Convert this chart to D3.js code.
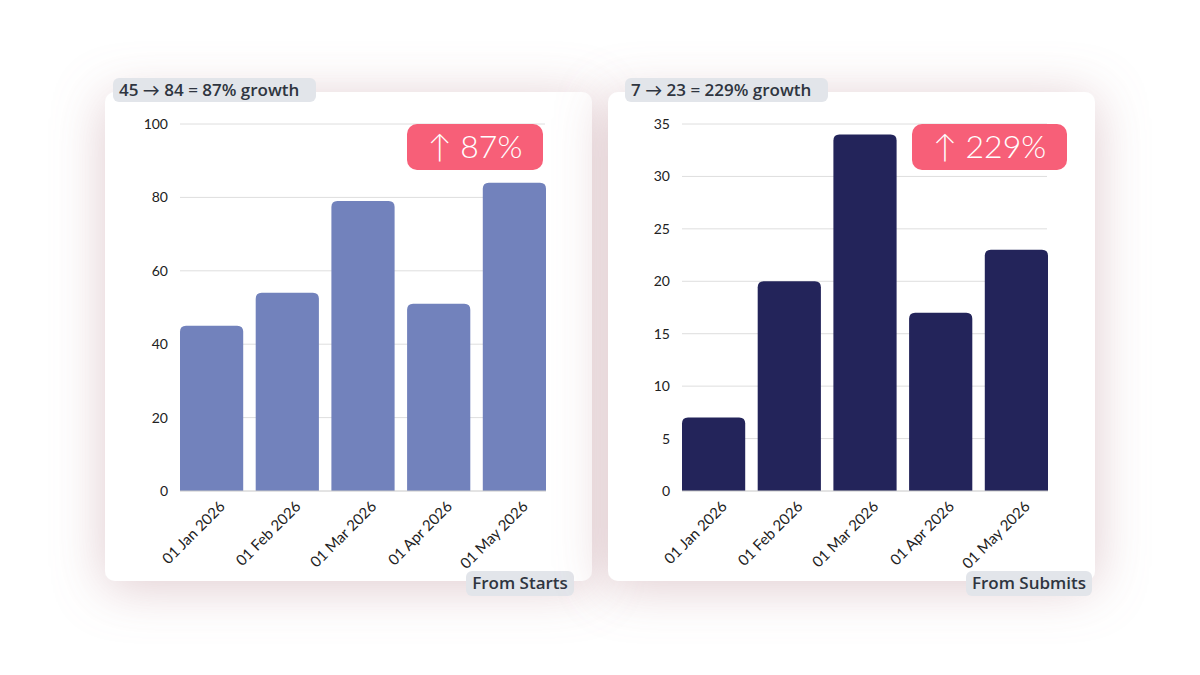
<!DOCTYPE html>
<html>
<head>
<meta charset="utf-8">
<script src="https://d3js.org/d3.v7.min.js"></script>
<style>
  body { margin: 0; background: #fff; }
  svg { font-family: Lato, "Open Sans", sans-serif; }
  .tick text { fill: #222; font-size: 14px; font-family: Lato, sans-serif; }
  .tag { font-family: "Open Sans", Lato, sans-serif; }
</style>
</head>
<body>
<script>
// data
const months = ["01 Jan 2026", "01 Feb 2026", "01 Mar 2026", "01 Apr 2026", "01 May 2026"];
const starts = [45, 54, 79, 51, 84];
const submits = [7, 20, 34, 17, 23];
const startTicks = [0, 20, 40, 60, 80, 100];
const submitTicks = [0, 5, 10, 15, 20, 25, 30, 35];

const width = 1200, height = 675;

const svg = d3.select("body").append("svg")
  .attr("width", width)
  .attr("height", height);

// pink shadow around cards
const defs = svg.append("defs");
const f = defs.append("filter").attr("id", "glow")
  .attr("x", "-40%").attr("y", "-40%").attr("width", "180%").attr("height", "180%");
f.append("feDropShadow")
  .attr("dx", 0).attr("dy", 6).attr("stdDeviation", 26)
  .attr("flood-color", "#b98a93").attr("flood-opacity", 0.45);

function drawCard(opt) {
  const g = svg.append("g");
  const cx = opt.left;

  // card
  g.append("rect")
    .attr("x", cx).attr("y", 92)
    .attr("width", 487).attr("height", 489)
    .attr("rx", 10)
    .attr("fill", "#fff")
    .attr("filter", "url(#glow)");

  const x = d3.scaleBand()
    .domain(months)
    .range([cx + opt.plotL, cx + opt.plotL + 366])
    .paddingInner(0.165)
    .paddingOuter(0);

  const y = d3.scaleLinear()
    .domain([0, opt.max])
    .range([491, 124]);

  // grid
  g.append("g").selectAll("line")
    .data(opt.ticks.filter(t => t > 0))
    .join("line")
    .attr("x1", x.range()[0]).attr("x2", x.range()[1] - 1)
    .attr("y1", d => y(d)).attr("y2", d => y(d))
    .attr("stroke", "#dedede").attr("stroke-width", 1);

  // y axis
  const ya = g.append("g")
    .attr("transform", "translate(" + (x.range()[0] - 4) + ",0)")
    .call(d3.axisLeft(y).tickValues(opt.ticks).tickSize(0).tickPadding(8));
  ya.select(".domain").remove();

  // bars (top corners rounded)
  const r = 6;
  g.append("g").selectAll("path")
    .data(opt.values)
    .join("path")
    .attr("fill", opt.color)
    .attr("d", (d, i) => {
      const x0 = x(months[i]), w = x.bandwidth(), y0 = y(d), y1 = y(0);
      return "M" + x0 + "," + y1 +
        "V" + (y0 + r) +
        "Q" + x0 + "," + y0 + " " + (x0 + r) + "," + y0 +
        "H" + (x0 + w - r) +
        "Q" + (x0 + w) + "," + y0 + " " + (x0 + w) + "," + (y0 + r) +
        "V" + y1 + "Z";
    });

  // baseline
  g.append("line")
    .attr("x1", x.range()[0]).attr("x2", x.range()[1])
    .attr("y1", y(0)).attr("y2", y(0))
    .attr("stroke", "#c8c8c8");

  // x labels
  g.append("g").selectAll("text")
    .data(months)
    .join("text")
    .attr("transform", d => "translate(" + (x(d) + x.bandwidth() / 2 + 7) + ",500) rotate(-45)")
    .attr("text-anchor", "end")
    .attr("dy", "0.7em")
    .attr("font-size", 15)
    .attr("fill", "#222")
    .text(d => d);

  // badge
  g.append("rect")
    .attr("x", cx + opt.badgeX).attr("y", 124)
    .attr("width", opt.badgeW).attr("height", 46)
    .attr("rx", 10)
    .attr("fill", "#f75f78");
  g.append("text")
    .attr("x", cx + opt.badgeX + opt.badgeW / 2).attr("y", 158)
    .attr("text-anchor", "middle")
    .attr("fill", "#fff")
    .attr("font-size", 32)
    .attr("font-weight", 300)
    .text(opt.badge);

  // top tag
  g.append("rect")
    .attr("x", cx + opt.tagX).attr("y", 78)
    .attr("width", opt.tagW).attr("height", 24)
    .attr("rx", 6)
    .attr("fill", "#e2e5ea");
  g.append("text")
    .attr("class", "tag")
    .attr("x", cx + opt.tagX + 6).attr("y", 96)
    .attr("fill", "#2f3540")
    .attr("font-size", 17)
    .attr("font-weight", 600)
    .text(opt.tag);

  // bottom tag
  g.append("rect")
    .attr("x", cx + opt.footX).attr("y", 571)
    .attr("width", opt.footW).attr("height", 25)
    .attr("rx", 6)
    .attr("fill", "#e2e5ea");
  g.append("text")
    .attr("class", "tag")
    .attr("x", cx + opt.footX + opt.footW / 2).attr("y", 589)
    .attr("text-anchor", "middle")
    .attr("fill", "#2f3540")
    .attr("font-size", 17)
    .attr("font-weight", 600)
    .text(opt.foot);
}

drawCard({
  left: 105, plotL: 75, max: 100, ticks: startTicks, values: starts, color: "#7282bc",
  badge: "\u2191 87%", badgeX: 302, badgeW: 136,
  tag: "45 \u2192 84 = 87% growth", tagX: 8, tagW: 203,
  foot: "From Starts", footX: 361, footW: 108
});

drawCard({
  left: 608, plotL: 74, max: 35, ticks: submitTicks, values: submits, color: "#23245a",
  badge: "\u2191 229%", badgeX: 304, badgeW: 155,
  tag: "7 \u2192 23 = 229% growth", tagX: 17, tagW: 203,
  foot: "From Submits", footX: 358, footW: 126
});
</script>
</body>
</html>
